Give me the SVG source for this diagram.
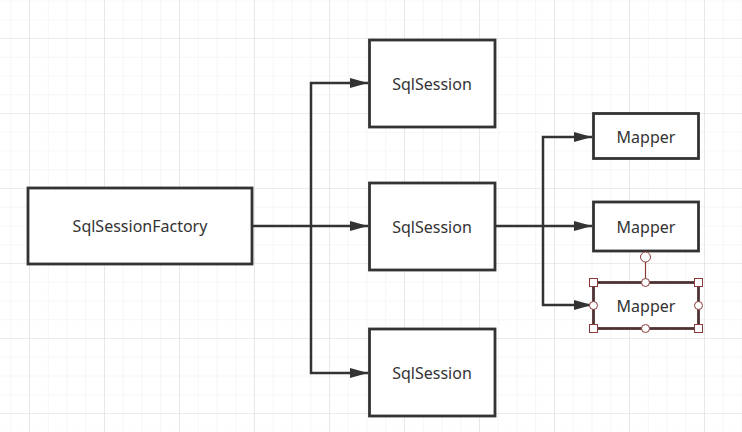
<svg xmlns="http://www.w3.org/2000/svg" width="742" height="432" viewBox="0 0 742 432">
<defs>
<pattern id="minor" x="10.25" y="0.5" width="18.75" height="18.75" patternUnits="userSpaceOnUse">
<path d="M0 0V18.75M0 0H18.75" fill="none" stroke="#eeeeee" stroke-width="1.2"/>
</pattern>
<pattern id="major" x="29" y="38" width="75" height="75" patternUnits="userSpaceOnUse">
<path d="M0 0V75M0 0H75" fill="none" stroke="#e0e0e0" stroke-width="1.2"/>
</pattern>
<marker id="arr" markerWidth="18" markerHeight="10" refX="18" refY="5" orient="auto" markerUnits="userSpaceOnUse">
<path d="M0 0L18 5L0 10Z" fill="#333"/>
</marker>
</defs>
<style>
.box{fill:#fff;stroke:#333;stroke-width:2.8}
.lbl{font-family:"Noto Sans","Open Sans",sans-serif;font-size:16px;fill:#333;text-anchor:middle;dominant-baseline:central}
.conn{fill:none;stroke:#333;stroke-width:2.5}
.h{fill:#fff;stroke:#8b3a3a;stroke-width:1}
</style>
<rect width="742" height="432" fill="#fff"/>
<rect width="742" height="432" fill="url(#minor)"/>
<rect width="742" height="432" fill="url(#major)"/>
<g id="connectors">
<path class="conn" d="M252 226H368" marker-end="url(#arr)"/>
<path class="conn" d="M311 226V83H368" marker-end="url(#arr)"/>
<path class="conn" d="M311 226V373H368" marker-end="url(#arr)"/>
<path class="conn" d="M495 226H592" marker-end="url(#arr)"/>
<path class="conn" d="M543 226V137H592" marker-end="url(#arr)"/>
<path class="conn" d="M543 226V305H592" marker-end="url(#arr)"/>
</g>
<g id="factory">
<rect class="box" x="28" y="188" width="224" height="76"/>
<text class="lbl" x="140" y="226">SqlSessionFactory</text>
</g>
<g id="session1">
<rect class="box" x="369.5" y="40" width="125.5" height="87"/>
<text class="lbl" x="432" y="84">SqlSession</text>
</g>
<g id="session2">
<rect class="box" x="369.5" y="183" width="125.5" height="87"/>
<text class="lbl" x="432" y="227">SqlSession</text>
</g>
<g id="session3">
<rect class="box" x="369.5" y="329" width="125.5" height="87"/>
<text class="lbl" x="432" y="373">SqlSession</text>
</g>
<g id="mapper1">
<rect class="box" x="593.5" y="113.5" width="105" height="45"/>
<text class="lbl" x="646" y="137">Mapper</text>
</g>
<g id="mapper2">
<rect class="box" x="593.5" y="202" width="105" height="49"/>
<text class="lbl" x="646" y="227">Mapper</text>
</g>
<g id="mapper3">
<rect class="box" x="593.5" y="282.5" width="105" height="46" style="stroke:#4e3333"/>
<text class="lbl" x="646" y="306">Mapper</text>
<line x1="645.5" y1="262" x2="645.5" y2="282" stroke="#8b3a3a" stroke-width="1.2"/>
<circle class="h" cx="645.5" cy="257" r="5"/>
<rect class="h" x="589.5" y="278.5" width="8" height="8"/>
<rect class="h" x="694.5" y="278.5" width="8" height="8"/>
<rect class="h" x="589.5" y="324.5" width="8" height="8"/>
<rect class="h" x="694.5" y="324.5" width="8" height="8"/>
<circle class="h" cx="645.5" cy="282.5" r="4"/>
<circle class="h" cx="645.5" cy="328.5" r="4"/>
<circle class="h" cx="593.5" cy="305.5" r="4"/>
<circle class="h" cx="698.5" cy="305.5" r="4"/>
</g>
</svg>
